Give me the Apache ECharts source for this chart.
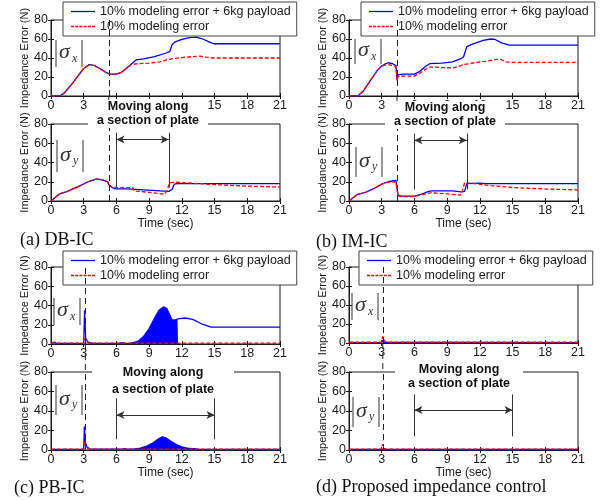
<!DOCTYPE html>
<html>
<head>
<meta charset="utf-8">
<script src="https://cdn.jsdelivr.net/npm/echarts@6/dist/echarts.min.js"></script>
<style>html,body{margin:0;padding:0;background:#fff}#main{width:606px;height:500px}</style>
</head>
<body>
<div id="main"></div>
<script>
// series names
var nameBlue = '10% modeling error + 6kg payload';
var nameRed = '10% modeling error';

// (a) DB-IC
var aXBlue = [[0,0],[0.8,0],[1.2,3],[1.8,11],[2.4,20],[3.0,29],[3.5,33],[4.0,32],[4.6,28],[5.1,24.5],[5.4,23],[6.0,23],[6.4,24.5],[6.9,29],[7.4,34],[7.8,38],[8.5,39],[9.5,41.5],[10.5,45],[10.9,47],[11.1,54],[11.4,57],[12,59.5],[12.7,61.5],[13.3,62],[13.8,60.5],[14.5,57],[14.9,55],[21,55]];
var aXRed = [[0,0],[0.8,0],[1.2,3],[1.8,11],[2.4,20],[3.0,29],[3.5,33],[4.0,32],[4.6,28],[5.1,24.5],[5.4,23],[6.0,23],[6.4,24.5],[6.9,29],[7.4,33.5],[8,34],[9,34.5],[10,36],[10.6,38],[11.2,39.5],[12,40.5],[13,41.5],[13.7,42],[14.2,41],[14.8,40],[21,40]];
var aYBlue = [[0,0],[0.8,7.5],[1.5,10],[2.5,15],[3.5,20.5],[4.2,23],[4.7,22],[5.2,20],[5.3,17],[5.6,14],[5.9,12.5],[7,12.5],[8.5,11.5],[10,10.5],[10.8,10],[11.1,12],[11.3,17.5],[11.6,18],[21,18]];
var aYRed = [[0,0],[0.8,7.5],[1.5,10],[2.5,15],[3.5,20.5],[4.2,23],[4.7,22],[5.2,20],[5.3,17],[5.6,14.5],[6,14],[7.5,14],[7.6,10.5],[9,9],[10.4,7],[10.6,10],[10.9,19],[11.5,19.5],[13,18.5],[15,17],[18,15.5],[21,14.5]];

// (b) IM-IC
var bXBlue = [[0,0],[0.8,0],[1.3,5],[2,17],[2.6,27],[3,31.5],[3.3,33.5],[3.6,35],[4,34],[4.3,32],[4.4,31.5],[4.42,17],[4.5,22.5],[5,23],[6,23],[6.5,26],[7,31],[7.4,34],[8.5,34.5],[9.5,36],[10.2,39],[10.5,41],[10.8,52],[11.2,54],[12.3,58.5],[13,60],[13.4,59.5],[14,56],[14.7,53.5],[21,53.5]];
var bXRed = [[0,0],[0.8,0],[1.3,5],[2,17],[2.6,27],[3,31.5],[3.3,32.5],[3.6,33],[4,32],[4.3,31],[4.4,30.5],[4.42,16],[4.5,20.5],[5,21],[6,21],[6.5,24],[7,28],[7.5,30.5],[8.5,30],[9.5,29.5],[10,31],[10.5,33],[11.5,35],[12.5,36.5],[13.5,38.5],[13.9,38.5],[14.4,36],[14.8,35.5],[21,35.5]];
var bYBlue = [[0,0],[0.8,7],[1.5,9],[2.3,13],[3,17.5],[3.6,20],[4.3,21.5],[4.4,21],[4.5,6],[4.8,5],[6,5],[6.5,6.5],[7.3,10],[7.6,10.5],[9.5,10.5],[10.3,9.5],[10.6,10],[10.8,18],[12,18.5],[12.5,18],[21,18]];
var bYRed = [[0,0],[0.8,7],[1.5,9],[2.3,13],[3,17.5],[3.6,19.5],[4.3,20],[4.4,19.5],[4.5,5.5],[4.8,4.5],[6,4.5],[6.5,6],[7.5,8.5],[9,7.5],[10.2,6],[10.4,10],[10.6,19],[11.5,18],[13,16],[15,14],[18,12.5],[21,11.5]];

// (c) PB-IC
var cXBlue = [[0,0.5],[0.3,2],[0.5,0.5],[3.0,0.5],[3.08,35],[3.18,6],[3.4,2],[3.8,0.7],[6.3,0.7],[6.5,1.5],[6.8,0.7],[7.3,0.7],[8,3],[8.5,8],[9,16],[9.5,27],[9.9,35],[10.3,38.5],[10.6,37],[10.9,30],[11.1,25],[11.4,25],[11.6,26],[12.3,27],[13,25.5],[13.8,21],[14.7,17.5],[21,17.5]];
var cXBand = [[7.3,0],[8,3],[8.5,8],[9,16],[9.5,27],[9.9,35],[10.3,38.5],[10.6,37],[10.9,30],[11.1,25],[11.4,25],[11.6,26],[11.65,0]];
var cXRed = [[0,1],[3.0,1],[3.08,6],[3.2,2.5],[3.5,1],[21,1]];
var cYBlue = [[0,0.5],[3.0,0.5],[3.06,24],[3.15,8],[3.3,3],[3.6,1],[6.5,1],[6.7,1.5],[7,0.8],[7.5,0.8],[8.2,2],[8.8,4],[9.3,7],[9.8,11],[10.2,13.5],[10.5,12.5],[11,9],[11.5,5.5],[12,3.2],[12.5,2],[13.5,1],[14.3,0.7],[21,0.5]];
var cYBand = [[7.5,0],[8.2,2],[8.8,4],[9.3,7],[9.8,11],[10.2,13.5],[10.5,12.5],[11,9],[11.5,5.5],[12,3.2],[12.5,2],[13.5,1],[14.3,0.5]];
var cYRed = [[0,0.8],[3.0,0.8],[3.06,9],[3.2,4],[3.4,1.5],[3.7,0.8],[21,0.8]];

// (d) proposed
var dXBlue = [[0,0.5],[3.0,0.5],[3.08,3],[3.2,0.8],[21,0.5]];
var dXRed = [[0,0.8],[3.0,0.8],[3.08,7],[3.25,2],[3.5,0.8],[21,0.8]];
var dYBlue = [[0,0.5],[3.0,0.5],[3.08,2],[3.2,0.5],[21,0.5]];
var dYRed = [[0,0.8],[3.0,0.8],[3.08,6],[3.2,1.5],[3.4,0.8],[21,0.8]];

// annotations (time / error units)
var switchT = [5.3, 4.4, 3.15, 3.1];
var moveT = [[6, 10.8], [6, 10.8], [6, 15], [6, 15]];
var moveBarY = [[14, 71], [12, 70], [11, 53], [14, 57]];
var moveArrowY = [64, 63, 36, 41];
var captions = ['(a) DB-IC', '(b) IM-IC', '(c) PB-IC', '(d) Proposed impedance control'];

var lines = [[aXBlue, aXRed], [aYBlue, aYRed], [bXBlue, bXRed], [bYBlue, bYRed],
             [cXBlue, cXRed], [cYBlue, cYRed], [dXBlue, dXRed], [dYBlue, dYRed]];
var bands = {4: cXBand, 5: cYBand};

var gl = [51, 51, 349, 349, 51, 51, 349, 349];
var gt = [20, 124, 20, 124, 267, 372, 267, 372];
var gh = [76, 77, 76, 77, 77, 78, 76, 78];

var txt = '#1a1a1a';
var sans = '"Liberation Sans", Arial, sans-serif';

var chart = echarts.init(document.getElementById('main'));
var grid = [], xAxis = [], yAxis = [], series = [], legend = [];

for (var i = 0; i < 8; i++) {
  var p = Math.floor(i / 2), bottom = i % 2 === 1;
  grid.push({left: gl[i], top: gt[i], width: 229, height: gh[i], show: true,
    borderColor: txt, borderWidth: 1, backgroundColor: '#fff'});
  xAxis.push({gridIndex: i, type: 'value', min: 0, max: 21, interval: 3,
    name: bottom ? 'Time (sec)' : '', nameLocation: 'middle', nameGap: 13,
    nameTextStyle: {color: txt, fontSize: 12, fontFamily: sans},
    axisLine: {lineStyle: {color: txt}}, axisTick: {inside: true, length: 3, lineStyle: {color: txt}},
    axisLabel: {color: txt, fontSize: 12.5, margin: 3, fontFamily: sans}, splitLine: {show: false}});
  xAxis.push({gridIndex: i, type: 'value', position: 'top', min: 0, max: 21, interval: 3,
    axisLine: {show: false}, axisTick: {inside: true, length: 3, lineStyle: {color: txt}},
    axisLabel: {show: false}, splitLine: {show: false}});
  yAxis.push({gridIndex: i, type: 'value', min: 0, max: 80, interval: 20,
    name: 'Impedance Error (N)', nameLocation: 'middle', nameGap: 20,
    nameTextStyle: {color: txt, fontSize: 11, fontFamily: sans},
    axisLine: {show: true, lineStyle: {color: txt}}, axisTick: {show: true, inside: true, length: 3, lineStyle: {color: txt}},
    axisLabel: {color: txt, fontSize: 12.5, margin: 3, fontFamily: sans}, splitLine: {show: false}});
  yAxis.push({gridIndex: i, type: 'value', position: 'right', min: 0, max: 80, interval: 20,
    axisLine: {show: false}, axisTick: {show: true, inside: true, length: 3, lineStyle: {color: txt}},
    axisLabel: {show: false}, splitLine: {show: false}});

  if (bands[i]) {
    series.push({type: 'line', xAxisIndex: 2 * i, yAxisIndex: 2 * i, data: bands[i],
      symbol: 'none', lineStyle: {width: 0}, areaStyle: {color: '#0000ff', opacity: 1}, z: 2});
  }
  series.push({name: nameBlue, type: 'line', xAxisIndex: 2 * i, yAxisIndex: 2 * i, data: lines[i][0],
    symbol: 'none', color: '#0000ff', lineStyle: {color: '#0000ff', width: 1.3}, z: 3});

  var ml = [{xAxis: switchT[p]}];
  if (bottom) {
    var solid = {type: 'solid', color: '#333', width: 1};
    ml.push([{coord: [moveT[p][0], moveBarY[p][0]], lineStyle: solid}, {coord: [moveT[p][0], moveBarY[p][1]]}]);
    ml.push([{coord: [moveT[p][1], moveBarY[p][0]], lineStyle: solid}, {coord: [moveT[p][1], moveBarY[p][1]]}]);
    ml.push([{coord: [moveT[p][0], moveArrowY[p]], symbol: 'arrow', symbolSize: [6, 8], lineStyle: solid},
             {coord: [moveT[p][1], moveArrowY[p]], symbol: 'arrow', symbolSize: [6, 8]}]);
  }
  series.push({name: nameRed, type: 'line', xAxisIndex: 2 * i, yAxisIndex: 2 * i, data: lines[i][1],
    symbol: 'none', color: '#ff0000', lineStyle: {color: '#ff0000', width: 1.3, type: [4, 2]}, z: 4,
    markLine: {silent: true, symbol: ['none', 'none'], label: {show: false},
      lineStyle: {color: '#222', type: [6, 4], width: 1}, data: ml}});
}

// legend samples: solid and dashed strokes
var iconSolid = 'path://M0,0h24v1.3h-24z';
var iconDash = 'path://M0,0h3v1.3h-3z M4.2,0h3v1.3h-3z M8.4,0h3v1.3h-3z M12.6,0h3v1.3h-3z M16.8,0h3v1.3h-3z M21,0h3v1.3h-3z';
var legendPos = [[63, 2], [361, 2], [63, 251], [359, 251]];
for (var k = 0; k < 4; k++) {
  legend.push({left: legendPos[k][0], top: legendPos[k][1], orient: 'vertical', selectedMode: false,
    data: [{name: nameBlue, icon: iconSolid}, {name: nameRed, icon: iconDash}],
    backgroundColor: '#fff', borderColor: '#444', borderWidth: 1,
    padding: [3, 6, 3, 8], itemGap: 2, itemWidth: 24, itemHeight: 12,
    textStyle: {color: txt, fontSize: 12.5, fontFamily: sans}});
}

chart.setOption({
  animation: false,
  backgroundColor: '#fff',
  grid: grid, xAxis: xAxis, yAxis: yAxis, legend: legend, series: series
});

// text labels, |sigma| labels and the dashed switch line across the gap
function sigma(x, y, h, sub) {
  return {type: 'group', x: x, y: y, z: 90, children: [
    {type: 'line', shape: {x1: 0, y1: 0, x2: 0, y2: h}, style: {stroke: '#333', lineWidth: 1}},
    {type: 'text', x: 3, y: h / 2 - 1, style: {text: 'σ', fontSize: 22, fontStyle: 'italic',
      fontFamily: '"Liberation Serif", serif', fill: '#333', verticalAlign: 'middle', textVerticalAlign: 'middle'}},
    {type: 'text', x: 16, y: h / 2 + 5, style: {text: sub, fontSize: 12, fontStyle: 'italic',
      fontFamily: '"Liberation Serif", serif', fill: '#333', verticalAlign: 'middle', textVerticalAlign: 'middle'}},
    {type: 'line', shape: {x1: 26, y1: 0, x2: 26, y2: h}, style: {stroke: '#333', lineWidth: 1}}
  ]};
}
function moving(x, y, lh, pad) {
  return {type: 'text', x: x, y: y, z: 100, style: {text: 'Moving along\na section of plate',
    fontSize: 12.5, fontWeight: 'bold', fontFamily: sans, fill: '#111', lineHeight: lh,
    align: 'center', textAlign: 'center', verticalAlign: 'top', textVerticalAlign: 'top',
    backgroundColor: '#fff', padding: [0, pad]}};
}
function caption(x, y, t) {
  return {type: 'text', x: x, y: y, z: 100, style: {text: t, fontSize: 18,
    fontFamily: '"Liberation Serif", "Times New Roman", serif', fill: '#111',
    verticalAlign: 'middle', textVerticalAlign: 'middle'}};
}

var graphic = [
  sigma(56, 40, 27, 'x'), sigma(57, 140, 32, 'y'),
  sigma(355, 39, 25, 'x'), sigma(356, 147, 30, 'y'),
  sigma(54, 298, 27, 'x'), sigma(56, 385, 30, 'y'),
  sigma(352, 293, 27, 'x'), sigma(353, 397, 30, 'y'),
  moving(148, 100, 14, 9), moving(445, 101, 14, 9),
  moving(163, 364, 17, 20), moving(459, 363, 14, 13),
  caption(20, 240, captions[0]), caption(316, 242, captions[1]),
  caption(14, 488, captions[2]), caption(316, 487, captions[3])
];
for (var q = 0; q < 4; q++) {
  var a = chart.convertToPixel({xAxisIndex: 4 * q, yAxisIndex: 4 * q}, [switchT[q], 0]);
  var b = chart.convertToPixel({xAxisIndex: 4 * q + 2, yAxisIndex: 4 * q + 2}, [switchT[q], 80]);
  graphic.push({type: 'line', z: 50, shape: {x1: a[0], y1: a[1], x2: b[0], y2: b[1]},
    style: {stroke: '#222', lineWidth: 1, lineDash: [6, 4]}});
}
chart.setOption({graphic: graphic});
</script>
</body>
</html>
